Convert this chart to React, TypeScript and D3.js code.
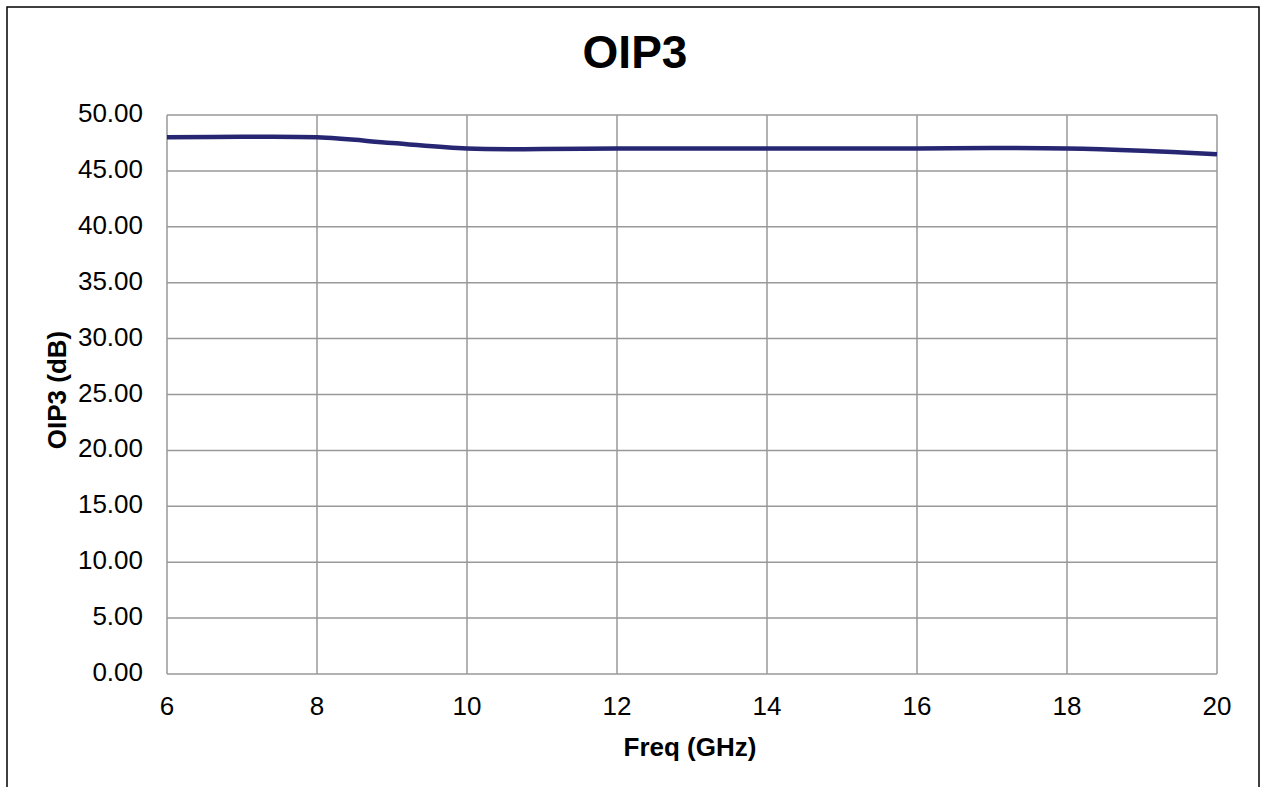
import * as d3 from "d3";
import { useEffect, useRef } from "react";

const freqGHz = [6, 7, 8, 9, 10, 11, 12, 13, 14, 15, 16, 17, 18, 19, 20];
const oip3dB = [48.0, 48.05, 48.0, 47.5, 47.0, 46.95, 47.0, 47.0, 47.0, 47.0, 47.0, 47.05, 47.0, 46.8, 46.5];
const xTicks = [6, 8, 10, 12, 14, 16, 18, 20];
const yTicks = [0, 5, 10, 15, 20, 25, 30, 35, 40, 45, 50];

const W = 1261;
const H = 787;
const margin = { left: 167, right: 1217, top: 115, bottom: 674 };
const font = "'Liberation Sans', Arial, sans-serif";

export default function App() {
  const svgRef = useRef<SVGSVGElement | null>(null);

  useEffect(() => {
    if (!svgRef.current) return;
    const svg = d3.select(svgRef.current);
    svg.selectAll("*").remove();

    // chart frame
    svg
      .append("rect")
      .attr("x", 7)
      .attr("y", 7)
      .attr("width", 1252)
      .attr("height", H)
      .attr("fill", "#fff")
      .attr("stroke", "#000")
      .attr("stroke-width", 1.5);

    const x = d3.scaleLinear().domain([6, 20]).range([margin.left, margin.right]);
    const y = d3.scaleLinear().domain([0, 50]).range([margin.bottom, margin.top]);

    // grid
    const grid = svg.append("g").attr("stroke", "#999").attr("stroke-width", 1.5);
    grid
      .selectAll("line.h")
      .data(yTicks)
      .join("line")
      .attr("class", "h")
      .attr("x1", margin.left)
      .attr("x2", margin.right)
      .attr("y1", (d) => y(d))
      .attr("y2", (d) => y(d));
    grid
      .selectAll("line.v")
      .data(xTicks)
      .join("line")
      .attr("class", "v")
      .attr("x1", (d) => x(d))
      .attr("x2", (d) => x(d))
      .attr("y1", margin.top)
      .attr("y2", margin.bottom);

    // tick labels
    svg
      .append("g")
      .selectAll("text")
      .data(yTicks)
      .join("text")
      .attr("x", 143)
      .attr("y", (d) => y(d) + 7)
      .attr("text-anchor", "end")
      .attr("font-family", font)
      .attr("font-size", 26)
      .text((d) => d.toFixed(2));

    svg
      .append("g")
      .selectAll("text")
      .data(xTicks)
      .join("text")
      .attr("x", (d) => x(d))
      .attr("y", 715)
      .attr("text-anchor", "middle")
      .attr("font-family", font)
      .attr("font-size", 26)
      .text((d) => d);

    // line
    const line = d3
      .line<number>()
      .x((_, i) => x(freqGHz[i]))
      .y((d) => y(d))
      .curve(d3.curveCatmullRom.alpha(0.5));

    svg
      .append("path")
      .datum(oip3dB)
      .attr("d", line)
      .attr("fill", "none")
      .attr("stroke", "#262673")
      .attr("stroke-width", 4.5);

    // titles
    svg
      .append("text")
      .attr("x", 635)
      .attr("y", 68)
      .attr("text-anchor", "middle")
      .attr("font-family", font)
      .attr("font-weight", "bold")
      .attr("font-size", 46)
      .text("OIP3");

    svg
      .append("text")
      .attr("x", 690)
      .attr("y", 756)
      .attr("text-anchor", "middle")
      .attr("font-family", font)
      .attr("font-weight", "bold")
      .attr("font-size", 26)
      .text("Freq (GHz)");

    svg
      .append("text")
      .attr("transform", `translate(66, 390) rotate(-90)`)
      .attr("text-anchor", "middle")
      .attr("font-family", font)
      .attr("font-weight", "bold")
      .attr("font-size", 26)
      .text("OIP3 (dB)");
  }, []);

  return (
    <svg
      ref={svgRef}
      width={W}
      height={H}
      style={{ position: "absolute", left: 0, top: 0, display: "block" }}
    />
  );
}
